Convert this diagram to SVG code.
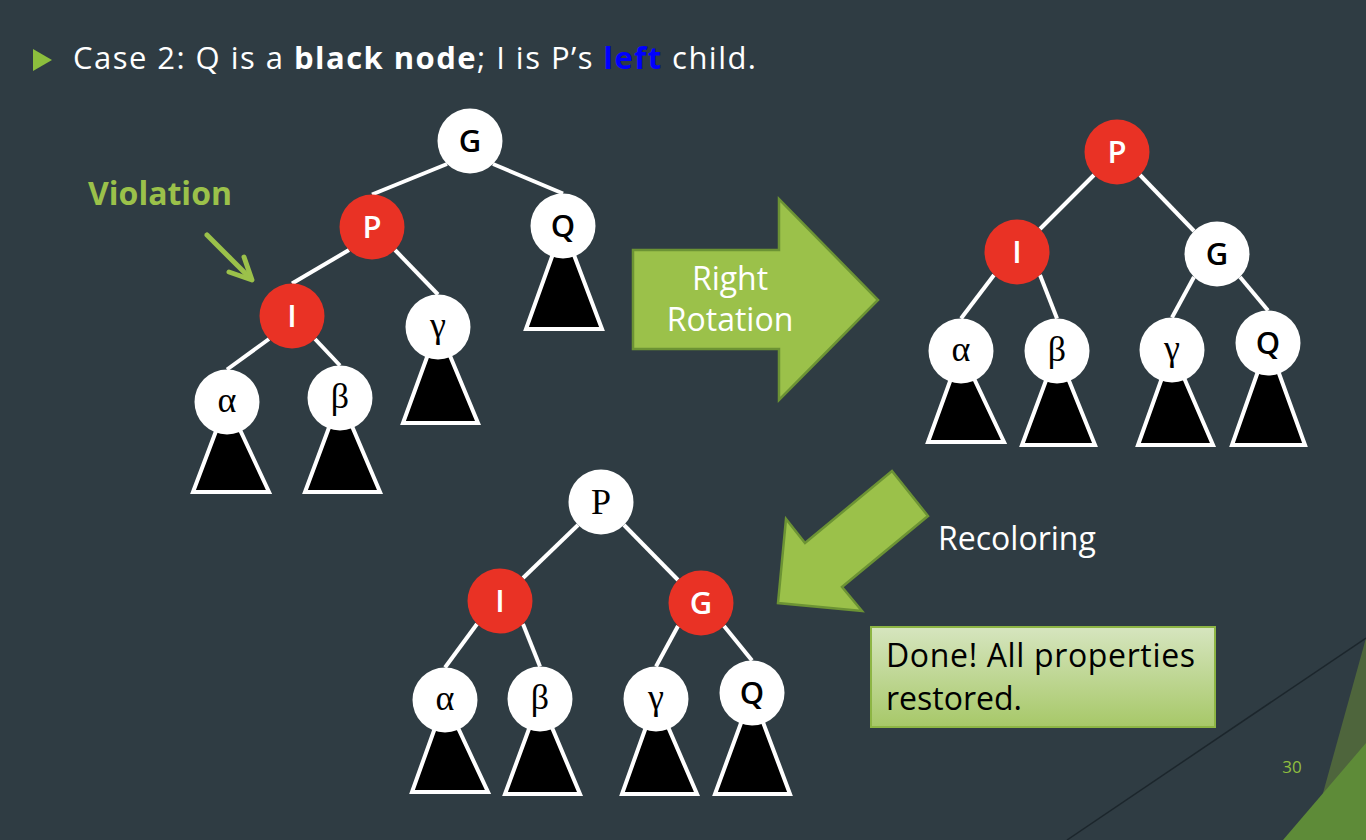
<svg xmlns="http://www.w3.org/2000/svg" width="1366" height="840" viewBox="0 0 1366 840">
<style>
.bg{fill:#2f3c43}
.edge{stroke:#ffffff;stroke-width:4;stroke-linecap:butt;fill:none}
.tri{fill:#000000;stroke:#ffffff;stroke-width:4;stroke-linejoin:miter}
.w{fill:#ffffff}
.r{fill:#e93225}
.sans{font-family:"Open Sans","DejaVu Sans",sans-serif}
.ser{font-family:"Liberation Serif","DejaVu Serif",serif}
.lbl{font-family:"Open Sans","DejaVu Sans",sans-serif;font-size:31px;font-weight:600;text-anchor:middle}
.gk{font-family:"Liberation Serif","DejaVu Serif",serif;font-size:36px;text-anchor:middle;fill:#000}
.arrow{fill:#9bc14a;stroke:#6c9334;stroke-width:2.5;stroke-linejoin:miter}
.wt{fill:#ffffff}
.bk{fill:#000000}
</style>
<defs>
<linearGradient id="doneGrad" x1="0" y1="0" x2="0" y2="1">
<stop offset="0" stop-color="#d6e5bf"/>
<stop offset="1" stop-color="#a7c868"/>
</linearGradient>
</defs>
<rect class="bg" x="0" y="0" width="1366" height="840"/>

<!-- corner decoration -->
<g id="corner">
<polygon points="1366,638 1310,840 1366,840" fill="#4e653c"/>
<polygon points="1366,743 1283,840 1366,840" fill="#5e8b38"/>
<line x1="1067" y1="840" x2="1366" y2="638" stroke="#1c262c" stroke-width="1.5"/>
<text x="1292" y="773" font-family="'Open Sans','DejaVu Sans',sans-serif" font-size="17" fill="#8fbf3f" text-anchor="middle">30</text>
</g>

<!-- title -->
<g id="title">
<polygon points="33,49 33,71 52,60" fill="#8cbf3d"/>
<text x="73" y="68.5" class="sans" font-size="31" font-weight="500" fill="#ffffff" textLength="683" lengthAdjust="spacing">Case 2: Q is a <tspan font-weight="700">black node</tspan>; I is P’s <tspan font-weight="700" fill="#0000ff">left</tspan> child.</text>
</g>

<!-- violation label -->
<g id="violation">
<text x="88" y="205" class="sans" font-size="32" font-weight="700" fill="#9bc14a">Violation</text>
<line x1="207" y1="235" x2="250" y2="278" stroke="#9bc14a" stroke-width="5" stroke-linecap="round"/>
<polyline points="229,272 252,280 244,257" fill="none" stroke="#9bc14a" stroke-width="5" stroke-linecap="round" stroke-linejoin="round"/>
</g>

<!-- connectors -->
<g id="connectors">
<!-- tree 1 -->
<line class="edge" x1="447" y1="164" x2="372" y2="194.5"/>
<line class="edge" x1="493" y1="164" x2="563" y2="193.5"/>
<line class="edge" x1="349" y1="250" x2="292" y2="283.5"/>
<line class="edge" x1="395" y1="250" x2="438" y2="294.5"/>
<line class="edge" x1="269" y1="339" x2="227" y2="369.5"/>
<line class="edge" x1="315" y1="339" x2="340" y2="365.5"/>
<!-- tree 2 -->
<line class="edge" x1="1094" y1="175" x2="1040" y2="229"/>
<line class="edge" x1="1140" y1="175" x2="1194" y2="231"/>
<line class="edge" x1="994" y1="275" x2="961" y2="318.5"/>
<line class="edge" x1="1040" y1="275" x2="1057" y2="318.5"/>
<line class="edge" x1="1194" y1="277" x2="1172" y2="317.5"/>
<line class="edge" x1="1240" y1="277" x2="1268" y2="310.5"/>
<!-- tree 3 -->
<line class="edge" x1="578" y1="525" x2="523" y2="578"/>
<line class="edge" x1="624" y1="525" x2="678" y2="580"/>
<line class="edge" x1="477" y1="624" x2="445" y2="667.5"/>
<line class="edge" x1="523" y1="624" x2="540" y2="666.5"/>
<line class="edge" x1="678" y1="626" x2="656" y2="666.5"/>
<line class="edge" x1="724" y1="626" x2="752" y2="660.5"/>
</g>

<!-- subtrees (triangles) -->
<g id="subtrees">
<polygon class="tri" points="563,226 526,329 602,329"/>
<polygon class="tri" points="438,327 403,423 478,423"/>
<polygon class="tri" points="227,402 193,492 269,492"/>
<polygon class="tri" points="340,398 305,492 380,492"/>

<polygon class="tri" points="961,351 928,442 1004,442"/>
<polygon class="tri" points="1057,351 1022,445 1095,445"/>
<polygon class="tri" points="1172,350 1138,445 1213,445"/>
<polygon class="tri" points="1268,343 1232,445 1305,445"/>

<polygon class="tri" points="445,700 412,792 488,792"/>
<polygon class="tri" points="540,699 505,794 580,794"/>
<polygon class="tri" points="656,699 622,794 697,794"/>
<polygon class="tri" points="752,693 715,794 790,794"/>
</g>

<!-- tree 1 nodes -->
<g id="t1-G"><circle class="w" cx="470" cy="141" r="32.5"/><text class="lbl bk" x="470" y="152">G</text></g>
<g id="t1-P"><circle class="r" cx="372" cy="227" r="32.5"/><text class="lbl wt" x="372" y="238">P</text></g>
<g id="t1-Q"><circle class="w" cx="563" cy="226" r="32.5"/><text class="lbl bk" x="563" y="237">Q</text></g>
<g id="t1-I"><circle class="r" cx="292" cy="316" r="32.5"/><text class="lbl wt" x="292" y="327">I</text></g>
<g id="t1-gamma"><circle class="w" cx="438" cy="327" r="32.5"/><text class="gk" x="438" y="337">γ</text></g>
<g id="t1-alpha"><circle class="w" cx="227" cy="402" r="32.5"/><text class="gk" x="227" y="412">α</text></g>
<g id="t1-beta"><circle class="w" cx="340" cy="398" r="32.5"/><text class="gk" x="340" y="408">β</text></g>

<!-- tree 2 nodes -->
<g id="t2-P"><circle class="r" cx="1117" cy="152" r="32.5"/><text class="lbl wt" x="1117" y="163">P</text></g>
<g id="t2-I"><circle class="r" cx="1017" cy="252" r="32.5"/><text class="lbl wt" x="1017" y="263">I</text></g>
<g id="t2-G"><circle class="w" cx="1217" cy="254" r="32.5"/><text class="lbl bk" x="1217" y="265">G</text></g>
<g id="t2-alpha"><circle class="w" cx="961" cy="351" r="32.5"/><text class="gk" x="961" y="361">α</text></g>
<g id="t2-beta"><circle class="w" cx="1057" cy="351" r="32.5"/><text class="gk" x="1057" y="361">β</text></g>
<g id="t2-gamma"><circle class="w" cx="1172" cy="350" r="32.5"/><text class="gk" x="1172" y="360">γ</text></g>
<g id="t2-Q"><circle class="w" cx="1268" cy="343" r="32.5"/><text class="lbl bk" x="1268" y="354">Q</text></g>

<!-- tree 3 nodes -->
<g id="t3-P"><circle class="w" cx="601" cy="502" r="32.5"/><text class="gk" x="601" y="514">P</text></g>
<g id="t3-I"><circle class="r" cx="500" cy="601" r="32.5"/><text class="lbl wt" x="500" y="612">I</text></g>
<g id="t3-G"><circle class="r" cx="701" cy="603" r="32.5"/><text class="lbl wt" x="701" y="614">G</text></g>
<g id="t3-alpha"><circle class="w" cx="445" cy="700" r="32.5"/><text class="gk" x="445" y="710">α</text></g>
<g id="t3-beta"><circle class="w" cx="540" cy="699" r="32.5"/><text class="gk" x="540" y="709">β</text></g>
<g id="t3-gamma"><circle class="w" cx="656" cy="699" r="32.5"/><text class="gk" x="656" y="709">γ</text></g>
<g id="t3-Q"><circle class="w" cx="752" cy="693" r="32.5"/><text class="lbl bk" x="752" y="704">Q</text></g>

<!-- right rotation arrow -->
<g id="rotation-arrow">
<polygon class="arrow" points="633,250 779,250 779,199 878,300 779,400 779,349 633,349"/>
<text x="730" y="289.5" class="sans" font-size="32" fill="#ffffff" text-anchor="middle">Right</text>
<text x="730" y="330.5" class="sans" font-size="32" fill="#ffffff" text-anchor="middle">Rotation</text>
</g>

<!-- recoloring arrow -->
<g id="recolor-arrow">
<polygon class="arrow" points="892,471 928,516 842,587 862,611 778,603 786,519 805,543"/>
<text x="938" y="550" class="sans" font-size="32" fill="#ffffff">Recoloring</text>
</g>

<!-- done box -->
<g id="done-box">
<rect x="871" y="627" width="344" height="100" fill="url(#doneGrad)" stroke="#8db544" stroke-width="2"/>
<text x="886" y="666.5" class="sans" font-size="32" fill="#000000" textLength="309" lengthAdjust="spacing">Done! All properties</text>
<text x="886" y="709.5" class="sans" font-size="32" fill="#000000">restored.</text>
</g>
</svg>
